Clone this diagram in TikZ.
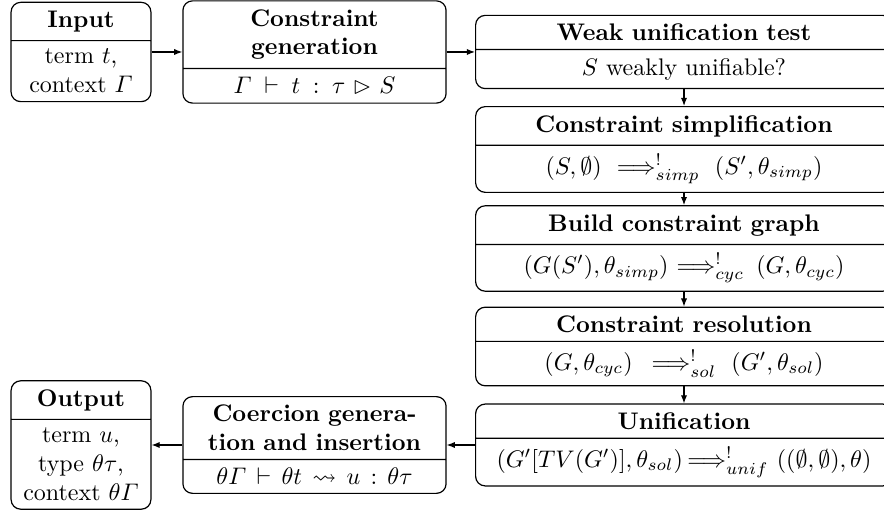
\documentclass[tikz,border=0pt]{standalone}
\usepackage{amsmath,amssymb}
\usepackage{tikz}
\usetikzlibrary{shapes.multipart,arrows.meta}
\tikzset{
  stage/.style={draw, line width=0.5pt, rounded corners=4pt, rectangle split,
    rectangle split parts=2, align=center, inner xsep=3.33pt, inner ysep=3.33pt},
  narrow/.style={stage, text width=51.6pt},
  middle/.style={stage, text width=103pt},
  wide/.style={stage, text width=167pt},
  flow/.style={-{Latex[length=3.4pt,width=2.6pt]}, line width=0.5pt}
}
\begin{document}
\begin{tikzpicture}[x=0.41667pt, y=-0.41667pt]
  \useasboundingbox (0,0) rectangle (884,515);
  % top row
  \node[narrow] (input) at (81,52)
    {\textbf{Input} \nodepart{two} term $t$,\\ context $\varGamma$};
  \node[middle] (gen) at (314.5,52)
    {\textbf{Constraint}\\ \textbf{generation}
     \nodepart{two} $\varGamma \vdash t : \tau \rhd S$};
  % right column
  \node[wide] (weak) at (684,52)
    {\textbf{Weak unification test} \nodepart{two} $S$ weakly unifiable?};
  \node[wide] (simp) at (684,149.5)
    {\textbf{Constraint simplification}
     \nodepart{two} $(S,\emptyset) \Longrightarrow^{!}_{simp} (S',\theta_{simp})$};
  \node[wide] (graph) at (684,248.5)
    {\textbf{Build constraint graph}
     \nodepart{two} $(G(S'),\theta_{simp}) \!\Longrightarrow^{!}_{cyc} (G,\theta_{cyc})$};
  \node[wide] (resol) at (684,346.5)
    {\textbf{Constraint resolution}
     \nodepart{two} $(G,\theta_{cyc}) \,\Longrightarrow^{!}_{sol} (G',\theta_{sol})$};
  \node[wide] (unif) at (684,445)
    {\textbf{Unification}
     \nodepart{two} $(G'[TV(G')],\theta_{sol}) \!\Longrightarrow^{!}_{unif} ((\emptyset,\emptyset),\theta)$};
  % bottom row
  \node[middle] (coerc) at (314.5,445)
    {\textbf{Coercion genera-}\\ \textbf{tion and insertion}
     \nodepart{two} $\theta\varGamma \vdash \theta t \leadsto u : \theta\tau$};
  \node[narrow] (output) at (81,445)
    {\textbf{Output} \nodepart{two} term $u$,\\ type $\theta\tau$,\\ context $\theta\varGamma$};
  % connectors
  \draw[flow] (input) -- (gen);
  \draw[flow] (gen) -- (weak);
  \draw[flow] (weak) -- (simp);
  \draw[flow] (simp) -- (graph);
  \draw[flow] (graph) -- (resol);
  \draw[flow] (resol) -- (unif);
  \draw[flow] (unif) -- (coerc);
  \draw[flow] (coerc) -- (output);
\end{tikzpicture}
\end{document}
